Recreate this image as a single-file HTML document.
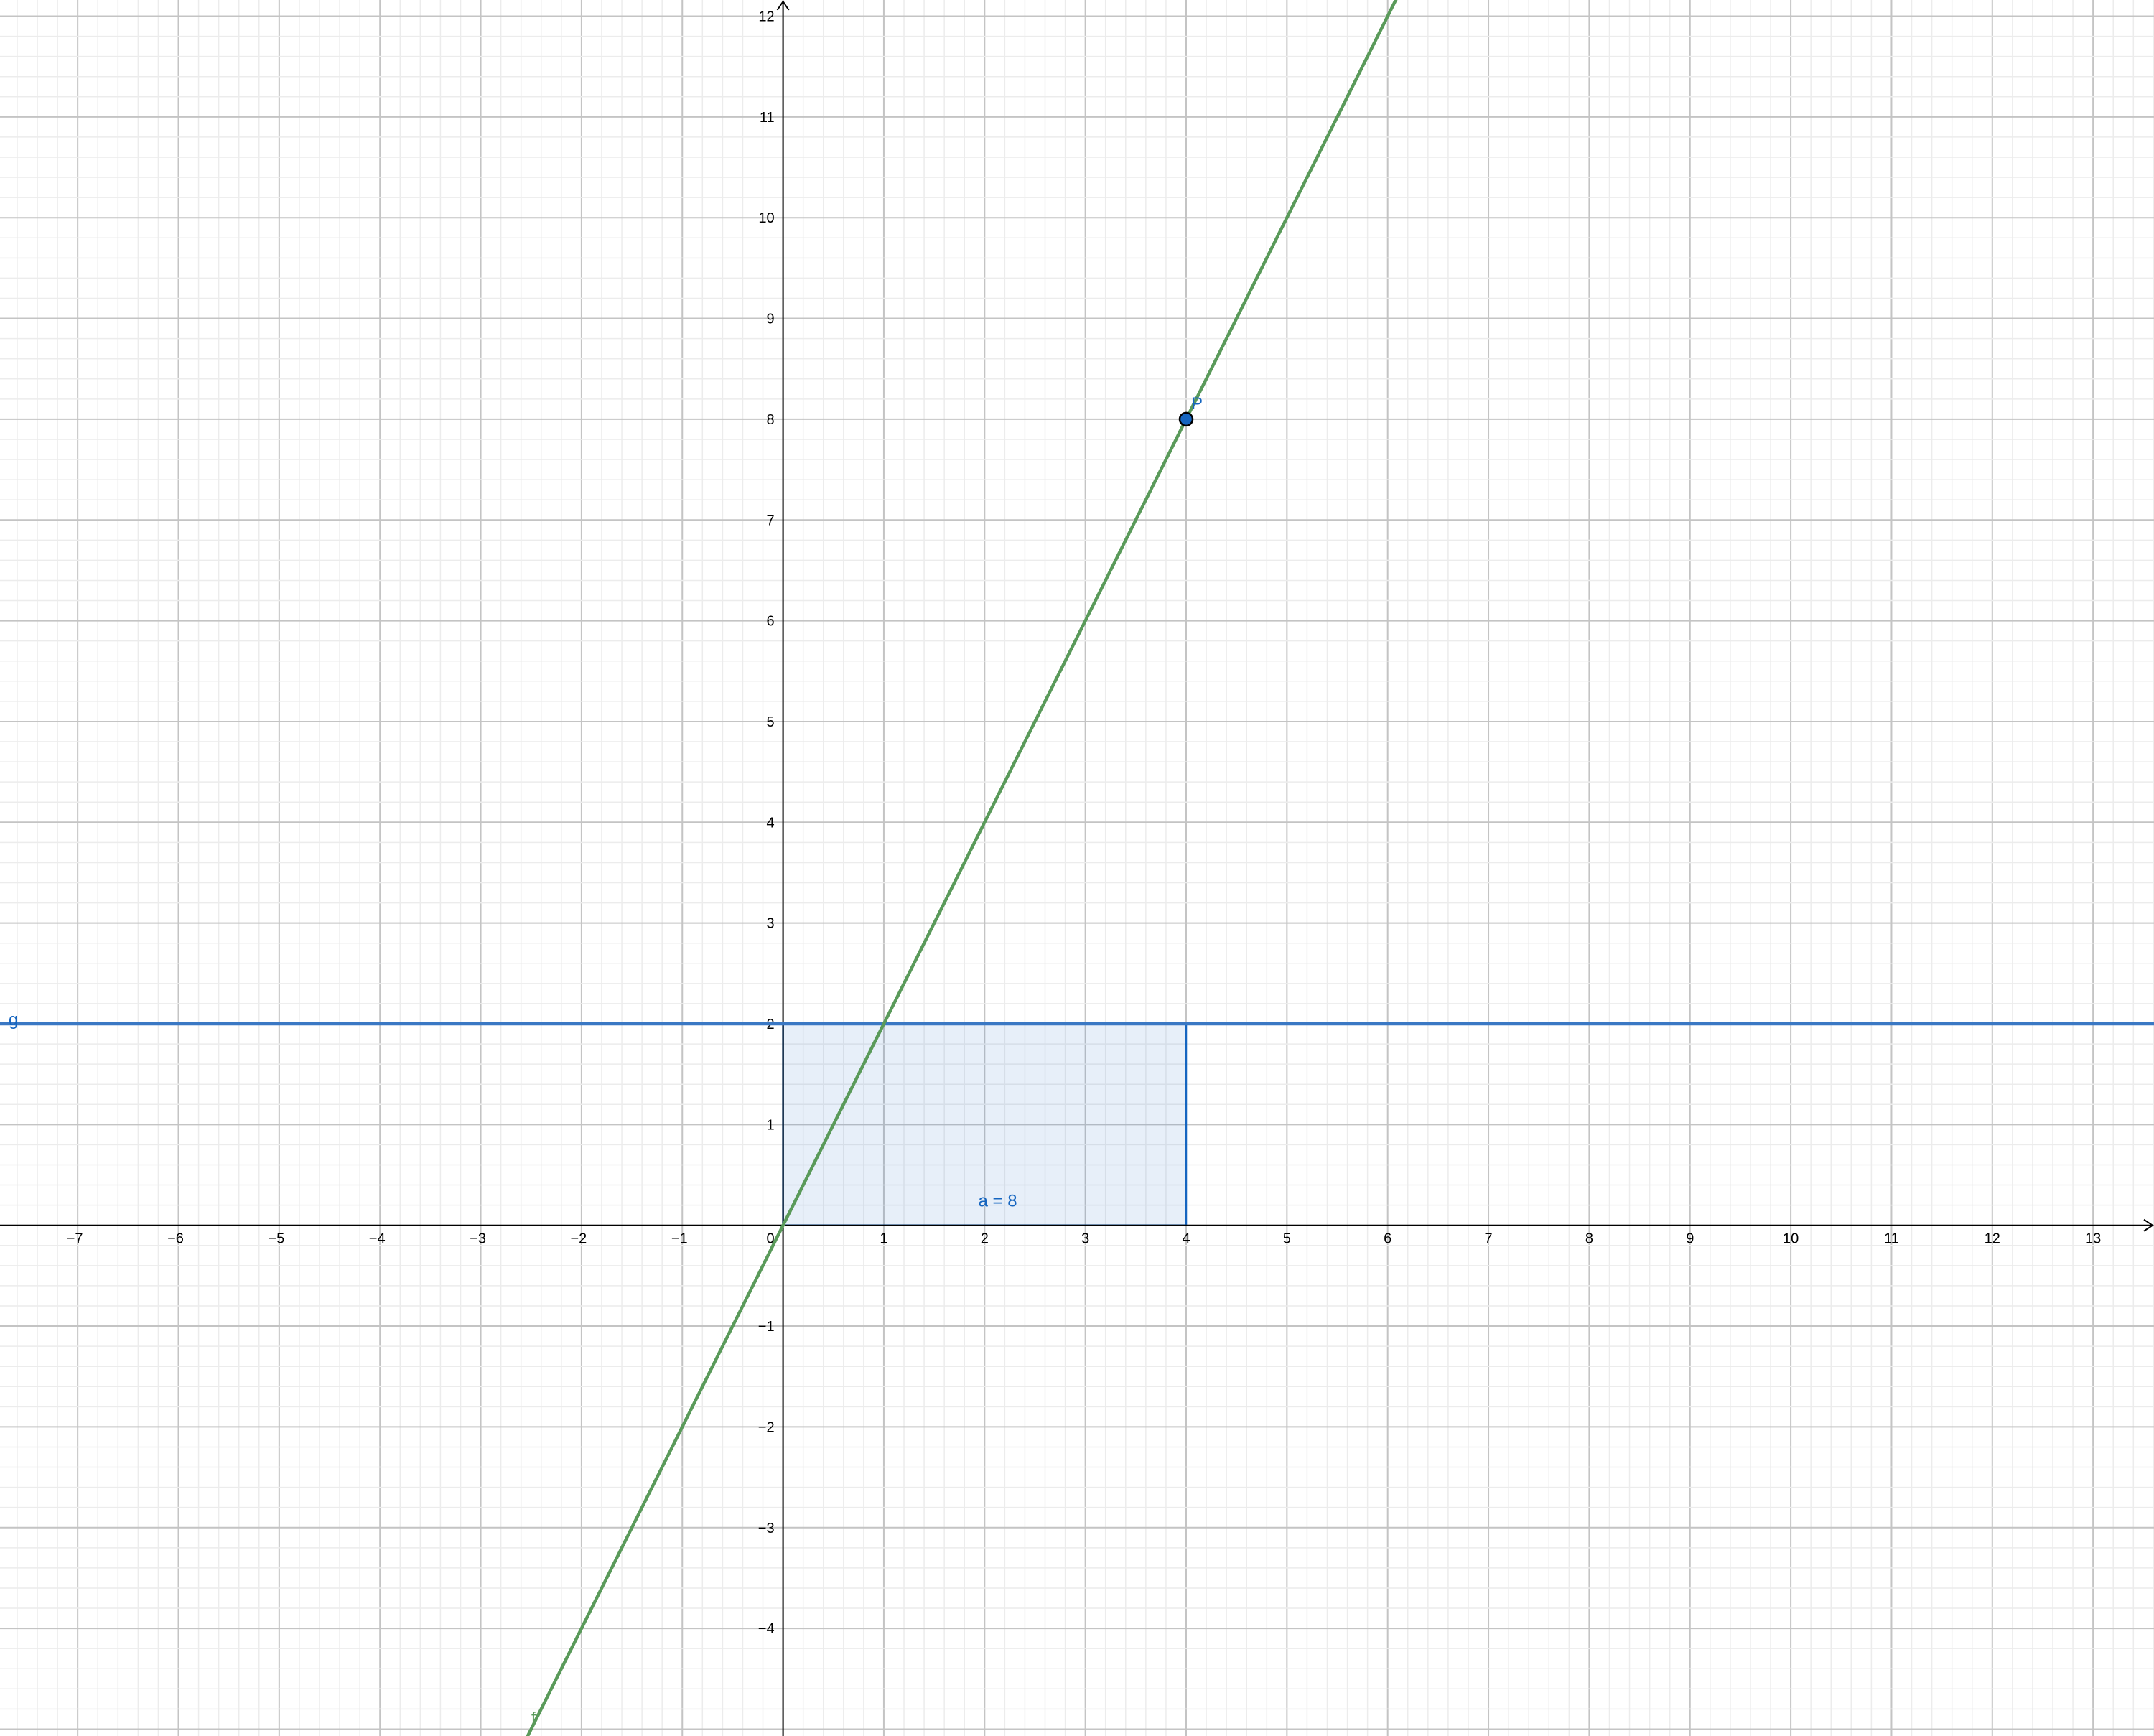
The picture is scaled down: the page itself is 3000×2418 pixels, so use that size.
<!DOCTYPE html>
<html><head><meta charset="utf-8"><style>
html,body{margin:0;padding:0;background:#fff;width:3000px;height:2418px;overflow:hidden;position:relative}
svg{display:block;position:absolute;left:0;top:0;overflow:hidden;font-family:"Liberation Sans",sans-serif}
</style></head><body>
<svg id="c" width="3000" height="2418" viewBox="0 0 3000 2418"></svg>
<script>
const xTicks=[-7,-6,-5,-4,-3,-2,-1,1,2,3,4,5,6,7,8,9,10,11,12,13];
const yTicks=[-4,-3,-2,-1,1,2,3,4,5,6,7,8,9,10,11,12];
const slopeF=[2];
const levelG=[2];
const pointP=[4,8];
const areaA=[8];
const W=3000,H=2418,U=140.35,OX=1090.6,OY=1706.7;
const sx=v=>OX+v*U, sy=v=>OY-v*U;
const NS="http://www.w3.org/2000/svg";
const svg=document.getElementById('c');
function mk(t,a,p){const e=document.createElementNS(NS,t);for(const k in a)e.setAttribute(k,a[k]);(p||svg).appendChild(e);return e;}
const grid=mk('g',{});


for(let i=Math.ceil(-OX/U*5);i<=Math.floor((W-OX)/U*5);i++){const x=sx(i/5);mk('line',{x1:x,y1:0,x2:x,y2:H,stroke:i%5?'#ececec':'#c4c4c4','stroke-width':i%5?1.5:2},grid);}
for(let i=Math.ceil(-(H-OY)/U*5);i<=Math.floor(OY/U*5);i++){const y=sy(i/5);mk('line',{x1:0,y1:y,x2:W,y2:y,stroke:i%5?'#ececec':'#c4c4c4','stroke-width':i%5?1.5:2},grid);}
const r=mk('rect',{x:sx(0),y:sy(levelG[0]),width:sx(areaA[0]/levelG[0])-sx(0),height:sy(0)-sy(levelG[0]),fill:'rgba(21,101,192,0.1)',stroke:'#1565c0','stroke-width':2.5});


const ax=mk('g',{stroke:'#000','stroke-width':2,fill:'none'});


mk('line',{x1:0,y1:OY,x2:W-2,y2:OY},ax);
mk('polyline',{points:`${W-14},${OY-8} ${W-2},${OY} ${W-14},${OY+8}`},ax);
mk('line',{x1:OX,y1:H,x2:OX,y2:2},ax);
mk('polyline',{points:`${OX-8},14 ${OX},2 ${OX+8},14`},ax);
const tl=mk('g',{'font-size':20,fill:'#000'});


xTicks.forEach(v=>{const t=mk('text',{x:sx(v)-(v<0?4:0),y:OY+25,'text-anchor':'middle'},tl);t.textContent=(v<0?'\u2212':'')+Math.abs(v);});
yTicks.forEach(v=>{const t=mk('text',{x:OX-12,y:sy(v)+7,'text-anchor':'end'},tl);t.textContent=(v<0?'\u2212':'')+Math.abs(v);});
const z=mk('text',{x:OX-12,y:OY+25,'text-anchor':'end','font-size':20},tl);z.textContent='0';
const g=mk('line',{x1:0,y1:sy(levelG[0]),x2:W,y2:sy(levelG[0]),stroke:'#3a78c4','stroke-width':4.5});


const gl=mk('text',{x:12,y:sy(levelG[0])+2,fill:'#1565c0','font-size':24});gl.textContent='g';


const xa=-OX/U, xb=(W-OX)/U;
const f=mk('line',{x1:sx(xa),y1:sy(slopeF[0]*xa),x2:sx(xb),y2:sy(slopeF[0]*xb),stroke:'#5a9a5a','stroke-width':4.5});


const fl=mk('text',{x:740,y:2400,fill:'#5a9a5a','font-size':22});fl.textContent='f';


const p=mk('circle',{cx:sx(pointP[0]),cy:sy(pointP[1]),r:9,fill:'#1565c0',stroke:'#000','stroke-width':2.5});


const pl=mk('text',{x:sx(pointP[0])+7,y:sy(pointP[1])-14,fill:'#1565c0','font-size':24});pl.textContent='P';


const al=mk('text',{x:sx(2.13),y:OY-26,fill:'#1565c0','font-size':24,'text-anchor':'middle'});al.textContent='a = '+areaA[0];


</script>
</body></html>
